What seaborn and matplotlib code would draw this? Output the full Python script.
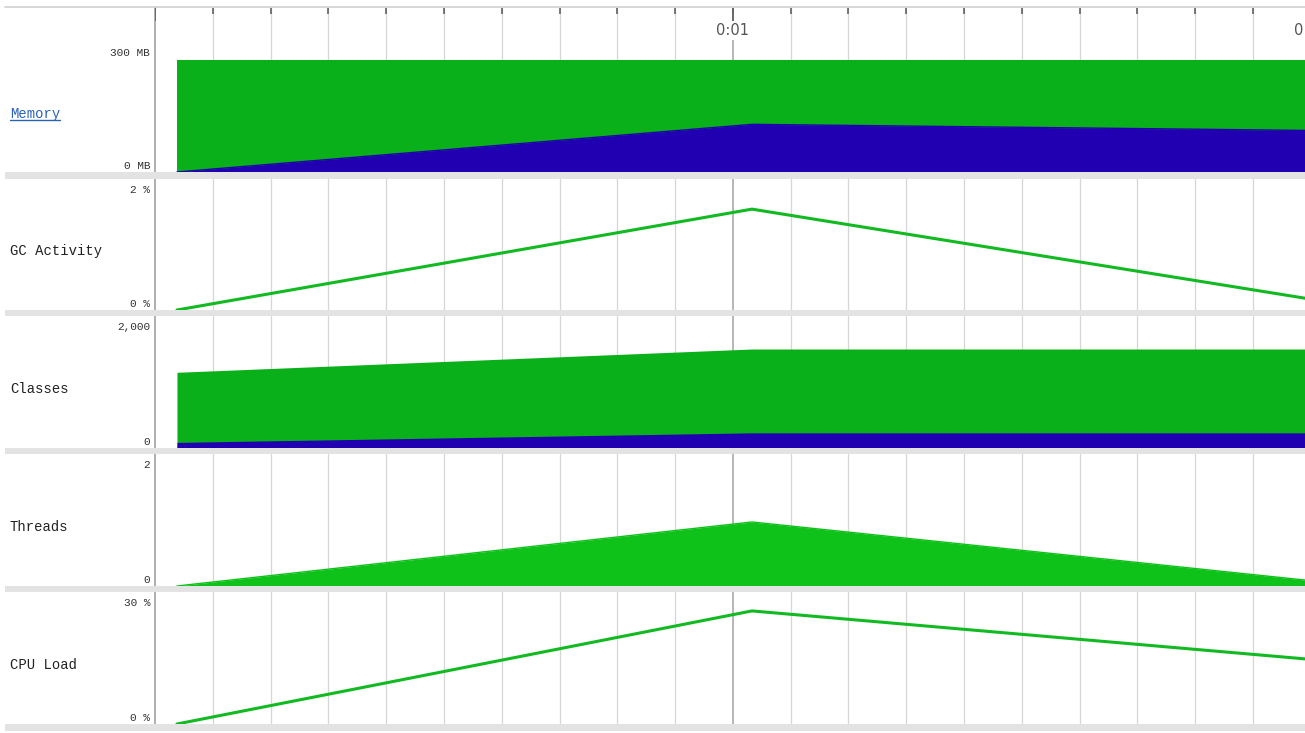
"""
JVM telemetry strip chart (Memory / GC / Classes / Threads / CPU).
"""

import numpy as np
import pandas as pd
import matplotlib.pyplot as plt
import seaborn as sns
from matplotlib.patches import Rectangle
from matplotlib.lines import Line2D

# sample times in seconds
times = [0.038, 1.033, 1.99]

mem_committed = [258, 258, 258]      # MB
mem_used = [0, 110, 96]              # MB
gc_activity = [0, 1.54, 0.18]        # %
classes_loaded = [1147, 1500, 1500]
classes_unloaded = [85, 230, 230]
threads = [0, 0.97, 0.09]
cpu_load = [0, 25.7, 14.8]           # %

panel_names = ["Memory", "GC Activity", "Classes", "Threads", "CPU Load"]
panel_max = [300, 2, 2000, 2, 30]
panel_ticklabels = [["0 MB", "300 MB"], ["0 %", "2 %"], ["0", "2,000"],
                    ["0", "2"], ["0 %", "30 %"]]
time_labels = ["0:01", "0:02"]
time_label_pos = [1.0, 2.0]

GREEN = "#0AB01A"
BLUE = "#2000B0"
THREAD_GREEN = "#0EC21A"
LINE_GREEN = "#12BA22"
GRID = "#D6D6D6"
GRID_MAJOR = "#AAAAAA"
BAND = "#E3E3E3"

W, H = 1305, 733
X0 = 155
XMAX = 1.99
panel_px = [(42, 172), (179, 310), (316, 448), (454, 586), (592, 724)]

sns.set_style("white")
plt.rcParams['font.family'] = ['Liberation Mono', 'DejaVu Sans']

fig = plt.figure(figsize=(W / 100, H / 100), dpi=100)


def add_px_axes(top, bottom):
    return fig.add_axes([X0 / W, 1 - bottom / H, (W - X0) / W, (bottom - top) / H])


def draw_grid(ax):
    for k in range(1, 20):
        t = k / 10
        major = k % 10 == 0
        ax.axvline(t, color=GRID_MAJOR if major else GRID, lw=1.2 if major else 0.9, zorder=0)


df = pd.DataFrame({
    "t": times, "committed": mem_committed, "used": mem_used, "gc": gc_activity,
    "loaded": classes_loaded, "unloaded": classes_unloaded,
    "threads": threads, "cpu": cpu_load,
})

axes = []
for i, (top, bottom) in enumerate(panel_px):
    ax = add_px_axes(top, bottom)
    ax.set_xlim(0, XMAX)
    ax.set_ylim(0, panel_max[i])
    for s in ["top", "right", "bottom"]:
        ax.spines[s].set_visible(False)
    ax.spines["left"].set_color("#A8A8A8")
    ax.spines["left"].set_linewidth(1.3)
    ax.set_xticks([])
    ax.set_yticks([])
    # value labels: max near top, zero near bottom
    ax.annotate(panel_ticklabels[i][1], xy=(0, panel_max[i]), xycoords=("axes fraction", "data"),
                xytext=(-5, -11), textcoords="offset pixels", ha="right", va="center",
                fontsize=8, color="#333333")
    ax.annotate(panel_ticklabels[i][0], xy=(0, 0), xycoords=("axes fraction", "data"),
                xytext=(-5, 6), textcoords="offset pixels", ha="right", va="center",
                fontsize=8, color="#333333")
    draw_grid(ax)
    axes.append(ax)

# Memory: committed (green) with used (blue) on top
ax = axes[0]
ax.fill_between(df["t"], 0, df["committed"], color=GREEN, lw=0, zorder=2)
ax.fill_between(df["t"], 0, df["used"], color=BLUE, lw=0, zorder=3)
sns.lineplot(data=df, x="t", y="used", ax=ax, color=BLUE, lw=1, zorder=4)

# GC activity line
sns.lineplot(data=df, x="t", y="gc", ax=axes[1], color=LINE_GREEN, lw=2.2, zorder=3)

# Classes
ax = axes[2]
ax.fill_between(df["t"], 0, df["loaded"], color=GREEN, lw=0, zorder=2)
ax.fill_between(df["t"], 0, df["unloaded"], color=BLUE, lw=0, zorder=3)

# Threads area
ax = axes[3]
ax.fill_between(df["t"], 0, df["threads"], color=THREAD_GREEN, lw=0, zorder=2)
sns.lineplot(data=df, x="t", y="threads", ax=ax, color=THREAD_GREEN, lw=1, zorder=3)

# CPU load line
sns.lineplot(data=df, x="t", y="cpu", ax=axes[4], color=LINE_GREEN, lw=2.2, zorder=3)

for ax in axes:
    ax.set_xlabel("")
    ax.set_ylabel("")

# header with time ticks
hax = add_px_axes(8, 42)
hax.set_xlim(0, XMAX)
hax.set_ylim(0, 1)
for s in ["top", "right", "bottom"]:
    hax.spines[s].set_visible(False)
hax.spines["left"].set_color("#A8A8A8")
hax.spines["left"].set_linewidth(1.3)
hax.set_yticks([])
hax.set_xticks([])
draw_grid(hax)
tick_t = np.arange(0, 20) / 10
hax.vlines(tick_t, 0.82, 1.0, color="#555555", lw=1.1, zorder=3)
hax.vlines([0.0, 1.0], 0.62, 1.0, color="#666666", lw=1.3, zorder=3)
for lab, pos in zip(time_labels, time_label_pos):
    hax.text(pos, 0.33, lab, ha="center", va="center", fontsize=10.5, color="#555555",
             family="DejaVu Sans", clip_on=False, zorder=5,
             bbox=dict(facecolor="white", edgecolor="none", pad=1.5))

# top border and separator bands
fig.add_artist(Line2D([5 / W, 1], [1 - 7 / H, 1 - 7 / H], color="#D0D0D0", lw=1.2))
for y0, y1 in [(172, 179), (310, 316), (448, 454), (586, 592), (724, 731)]:
    fig.add_artist(Rectangle((5 / W, 1 - y1 / H), 1 - 5 / W, (y1 - y0) / H,
                             transform=fig.transFigure, color=BAND, lw=0, zorder=10))

# panel titles in the left column
for i, (top, bottom) in enumerate(panel_px):
    yc = 1 - ((top + bottom) / 2 + 7) / H
    if panel_names[i] == "Memory":
        txt = fig.text(10 / W, yc, panel_names[i], ha="left", va="center",
                       fontsize=10, color="#2A62B8")
        fig.canvas.draw()
        bb = txt.get_window_extent().transformed(fig.transFigure.inverted())
        fig.add_artist(Line2D([bb.x0, bb.x1], [bb.y0 + 1 / H, bb.y0 + 1 / H],
                              color="#2A62B8", lw=1))
    else:
        fig.text(10 / W, yc, panel_names[i], ha="left", va="center",
                 fontsize=10, color="#222222")

fig.savefig("out.png", dpi=100)
